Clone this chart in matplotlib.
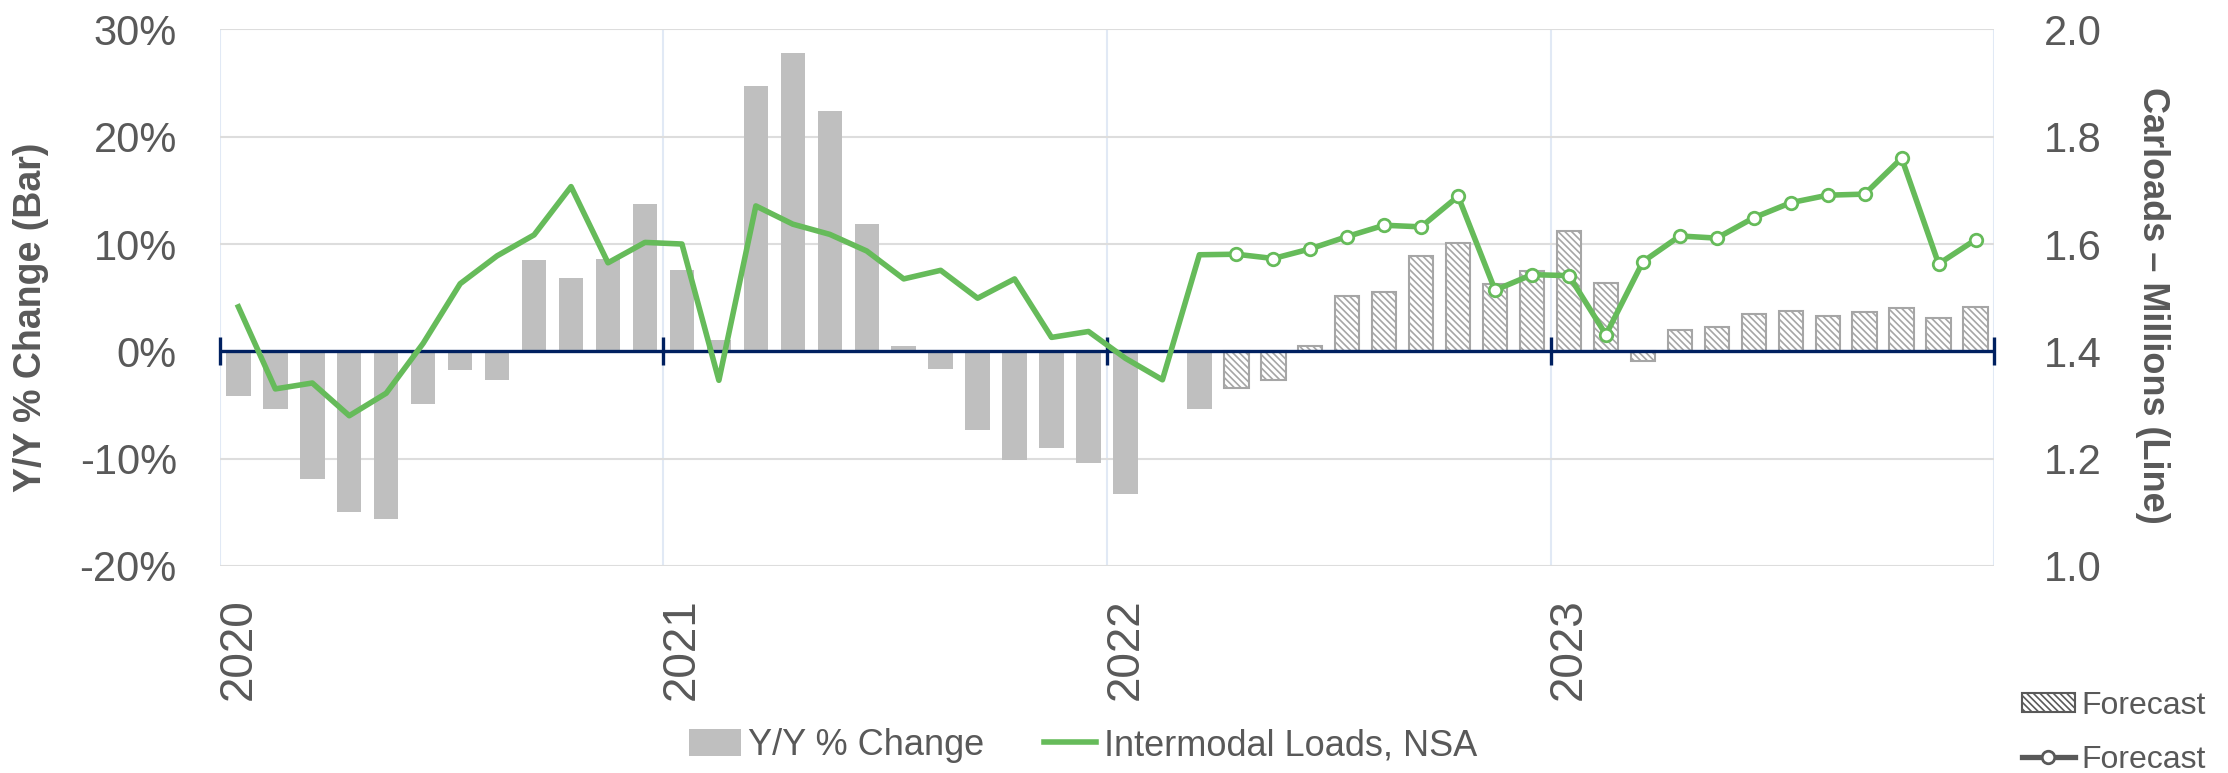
import matplotlib
matplotlib.use("Agg")
import matplotlib.pyplot as plt
from matplotlib.patches import Patch
from matplotlib.lines import Line2D

plt.rcParams['font.family'] = ['Liberation Sans', 'DejaVu Sans']
plt.rcParams['hatch.linewidth'] = 1.2

# monthly data, Jan 2020 - Dec 2023
years = ['2020', '2021', '2022', '2023']
yoy_pct = [-4.2, -5.4, -11.9, -15.0, -15.6, -4.9, -1.7, -2.7, 8.5, 6.8, 8.6, 13.7,
           7.6, 1.1, 24.7, 27.8, 22.4, 11.9, 0.5, -1.6, -7.3, -10.1, -9.0, -10.4,
           -13.3, 0.0, -5.4, -3.4, -2.7, 0.5, 5.2, 5.5, 8.9, 10.1, 6.3, 7.5,
           11.2, 6.4, -0.9, 2.0, 2.3, 3.5, 3.8, 3.3, 3.7, 4.0, 3.1, 4.1]
loads_mil = [1.483, 1.330, 1.341, 1.280, 1.322, 1.415, 1.526, 1.578, 1.617, 1.707, 1.565, 1.603,
             1.600, 1.346, 1.671, 1.637, 1.618, 1.587, 1.535, 1.551, 1.499, 1.535, 1.426, 1.437,
             1.387, 1.347, 1.580, 1.581, 1.573, 1.591, 1.614, 1.635, 1.632, 1.689, 1.514, 1.543,
             1.541, 1.431, 1.567, 1.615, 1.611, 1.649, 1.677, 1.691, 1.693, 1.760, 1.563, 1.608]
forecast_start = 27  # Apr 2022

TXT = '#595959'
GREEN = '#66BB5A'
NAVY = '#002060'

months = list(range(len(yoy_pct)))
year_pos = [12 * i for i in range(len(years))]
boundaries = [12 * i - 0.5 for i in range(len(years) + 1)]

fig = plt.figure(figsize=(22.28, 7.73), dpi=100)
ax = fig.add_axes([0.0987, 0.2678, 0.7963, 0.6942])

# bars: actual vs forecast
ax.bar(months[:forecast_start], yoy_pct[:forecast_start], width=0.66,
       color='#BFBFBF', zorder=2)
ax.bar(months[forecast_start:], yoy_pct[forecast_start:], width=0.66,
       facecolor='white', edgecolor='#A6A6A6', linewidth=1.5,
       hatch='\\\\\\\\\\', zorder=2)

ax.set_xlim(-0.5, len(months) - 0.5)
ax.set_ylim(-20, 30)
ax.set_yticks([-20, -10, 0, 10, 20, 30])
ax.set_yticklabels([f'{v}%' for v in [-20, -10, 0, 10, 20, 30]])
ax.set_xticks(year_pos)
ax.set_xticklabels(years, rotation=90, va='top', ha='center')
ax.set_xticks(boundaries, minor=True)
ax.tick_params(axis='x', which='both', length=0, pad=23, labelsize=33, colors=TXT)
ax.tick_params(axis='y', length=0, pad=31, labelsize=30, colors=TXT)
ax.grid(axis='y', color='#DDDDDD', lw=1.5, zorder=0)
ax.grid(axis='x', which='minor', color='#E1E9F5', lw=1.5, zorder=0)
ax.grid(axis='x', which='major', visible=False)
for s in ax.spines.values():
    s.set_visible(False)

# zero line with year tick marks
ax.axhline(0, color=NAVY, lw=2.4, zorder=3)
ax.vlines(boundaries, -1.3, 1.3, color=NAVY, lw=2.4, zorder=3, clip_on=False)

# line on right axis
ax2 = ax.twinx()
ax2.plot(months, loads_mil, color=GREEN, lw=4, zorder=4,
         marker='o', markevery=list(range(forecast_start, len(months))),
         markersize=9, markerfacecolor='white', markeredgecolor=GREEN,
         markeredgewidth=2)
ax2.set_ylim(1.0, 2.0)
ax2.set_yticks([1.0, 1.2, 1.4, 1.6, 1.8, 2.0])
ax2.set_yticklabels([f'{v:.1f}' for v in [1.0, 1.2, 1.4, 1.6, 1.8, 2.0]])
ax2.tick_params(axis='y', length=0, pad=36, labelsize=30, colors=TXT)
for s in ax2.spines.values():
    s.set_visible(False)

fig.text(0.014, 0.59, 'Y/Y % Change (Bar)', rotation=90, ha='center', va='center',
         fontsize=27, fontweight='bold', color=TXT)
fig.text(0.966, 0.605, 'Carloads \u2013 Millions (Line)', rotation=270, ha='center',
         va='center', fontsize=26, fontweight='bold', color=TXT)

main_handles = [Patch(facecolor='#BFBFBF', edgecolor='none'),
                Line2D([], [], color=GREEN, lw=4)]
fig.legend(main_handles, ['Y/Y % Change', 'Intermodal Loads, NSA'],
           loc='center', bbox_to_anchor=(0.486, 0.035), ncol=2, frameon=False,
           fontsize=26, labelcolor=TXT, handlelength=1.45, handleheight=0.78,
           handletextpad=0.2, columnspacing=1.65, borderpad=0, borderaxespad=0)

fc_handles = [Patch(facecolor='white', edgecolor='#595959', lw=1.5, hatch='\\\\\\\\\\'),
              Line2D([], [], color='#595959', lw=3.8, marker='o', markersize=9,
                     markerfacecolor='white', markeredgecolor='#595959',
                     markeredgewidth=2)]
fig.legend(fc_handles, ['Forecast', 'Forecast'], loc='center left',
           bbox_to_anchor=(0.9076, 0.052), frameon=False, fontsize=23,
           labelcolor=TXT, handlelength=1.65, handleheight=0.55,
           handletextpad=0.2, labelspacing=0.75, borderpad=0, borderaxespad=0)

fig.savefig('out.png', dpi=100)
